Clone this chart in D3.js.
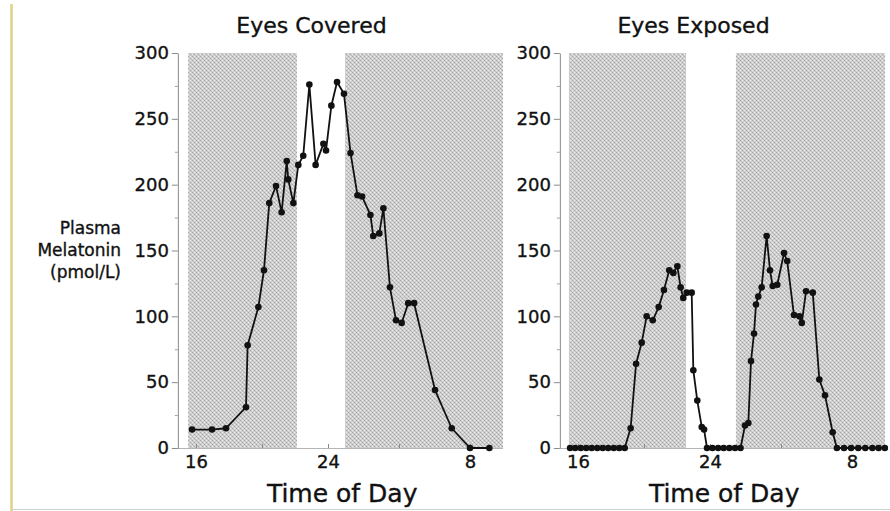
<!DOCTYPE html>
<html>
<head>
<meta charset="utf-8">
<script src="https://cdn.jsdelivr.net/npm/d3@7"></script>
<style>
  html, body { margin: 0; padding: 0; background: #fff; }
  svg { display: block; }
  text { font-family: "DejaVu Sans", Verdana, sans-serif; fill: #111; stroke: #111; stroke-width: 0.35px; }
</style>
</head>
<body>
<svg id="chart" width="890" height="511"></svg>
<script>
// Clock hours (continuing past midnight: 32 = 8 AM next day)
const hourTicks = [16, 24, 32];
const hourTickLabels = ["16", "24", "8"];
const hourMinorTicks = [20, 28];
const levelTicks = [0, 50, 100, 150, 200, 250, 300];
const levelMinorTicks = [25, 75, 125, 175, 225, 275];
const panelTitles = ["Eyes Covered", "Eyes Exposed"];
const xTitle = "Time of Day";
const yTitleLines = ["Plasma", "Melatonin", "(pmol/L)"];

// Eyes covered: sampling time (h) and plasma melatonin (pmol/L)
const coveredTime = [15.76, 16.97, 17.82, 19.03, 19.13, 19.78, 20.12, 20.44, 20.85, 21.19,
  21.50, 21.59, 21.90, 22.20, 22.50, 22.87, 23.25, 23.72, 23.88, 24.19,
  24.51, 24.90, 25.27, 25.66, 25.92, 26.39, 26.55, 26.89, 27.12, 27.49,
  27.83, 28.15, 28.52, 28.85, 30.03, 30.97, 32.00, 33.09];
const coveredLevel = [14, 14, 15, 31, 78, 107, 135, 186, 199, 179,
  218, 204, 186, 215, 222, 276, 215, 231, 226, 260,
  278, 269, 224, 192, 191, 177, 161, 163, 182, 122,
  97, 95, 110, 110, 44, 15, 0, 0];

// Eyes exposed
const exposedTime = [15.52, 15.83, 16.17, 16.50, 16.83, 17.17, 17.50, 17.83, 18.17, 18.50, 18.83,
  19.19, 19.52, 19.86, 20.16, 20.53, 20.89, 21.21, 21.53, 21.78, 22.02,
  22.22, 22.38, 22.59, 22.89, 22.99, 23.23, 23.50, 23.64,
  23.82, 24.14, 24.46, 24.77, 25.09, 25.41, 25.72,
  25.97, 26.16, 26.31, 26.48, 26.59, 26.72, 26.91, 27.19, 27.38, 27.53,
  27.79, 28.17, 28.35, 28.73, 29.03, 29.17, 29.41, 29.79, 30.16, 30.48, 30.91,
  31.15, 31.55, 31.95, 32.35, 32.75, 33.15, 33.50, 33.85];
const exposedLevel = [0, 0, 0, 0, 0, 0, 0, 0, 0, 0, 0,
  15, 64, 80, 100, 97, 107, 120, 135, 133, 138,
  122, 114, 118, 118, 59, 36, 16, 14,
  0, 0, 0, 0, 0, 0, 0,
  17, 19, 66, 87, 109, 115, 122, 161, 135, 123,
  124, 148, 142, 101, 100, 95, 119, 118, 52, 40, 12,
  0, 0, 0, 0, 0, 0, 0, 0];

// Dark periods (start, end) in hours
const coveredDarkStart = [15.52, 24.96];
const coveredDarkEnd = [22.12, 33.86];
const exposedDarkStart = [15.45, 25.46];
const exposedDarkEnd = [22.55, 33.86];

const svg = d3.select("#chart");

// Halftone screen used for the dark periods
const defs = svg.append("defs");
const pat = defs.append("pattern")
  .attr("id", "halftone")
  .attr("width", 4).attr("height", 4)
  .attr("patternUnits", "userSpaceOnUse");
pat.append("rect").attr("width", 4).attr("height", 4).attr("fill", "#d0d0d0");
[[0, 0, "#a6a6a6"], [2, 2, "#a6a6a6"], [2, 0, "#ececec"], [0, 2, "#ececec"],
 [1, 1, "#c0c0c0"], [3, 3, "#c0c0c0"]].forEach(([px, py, c]) =>
  pat.append("rect").attr("x", px).attr("y", py).attr("width", 1).attr("height", 1).attr("fill", c));

// Page frame: a khaki rule on the left and a faint rule at the bottom
svg.append("line").attr("x1", 11.5).attr("x2", 11.5).attr("y1", 4).attr("y2", 511)
  .attr("stroke", "#e0d188").attr("stroke-width", 2.5);
svg.append("line").attr("x1", 12).attr("x2", 890).attr("y1", 509.5).attr("y2", 509.5)
  .attr("stroke", "#d2d2d2").attr("stroke-width", 1);

const y = d3.scaleLinear().domain([0, 300]).range([448, 53]);

const panels = [
  { title: panelTitles[0], time: coveredTime, level: coveredLevel,
    darkStart: coveredDarkStart, darkEnd: coveredDarkEnd, shift: 0 },
  { title: panelTitles[1], time: exposedTime, level: exposedLevel,
    darkStart: exposedDarkStart, darkEnd: exposedDarkEnd, shift: 382 }
];

panels.forEach(p => {
  const x = d3.scaleLinear().domain([16, 24, 32])
    .range([196 + p.shift, 328 + p.shift, 470 + p.shift]);
  const g = svg.append("g");
  const x0 = x(14.9);
  const xEnd = x(33.86);

  // dark periods
  g.selectAll("rect.dark").data(d3.range(p.darkStart.length)).join("rect")
    .attr("class", "dark")
    .attr("x", i => x(p.darkStart[i]))
    .attr("width", i => x(p.darkEnd[i]) - x(p.darkStart[i]))
    .attr("y", y(300))
    .attr("height", y(0) - y(300))
    .attr("fill", "url(#halftone)");

  // baseline
  g.append("line").attr("x1", x0).attr("x2", xEnd).attr("y1", y(0) + 0.5).attr("y2", y(0) + 0.5)
    .attr("stroke", "#b4b4b4").attr("stroke-width", 1);

  // y axis
  const ya = g.append("g").attr("transform", `translate(${x0},0)`)
    .call(d3.axisLeft(y).tickValues(levelTicks).tickSize(6).tickSizeOuter(0).tickPadding(3));
  ya.select(".domain").attr("stroke", "#8a8a8a");
  ya.selectAll(".tick line").attr("stroke", "#8a8a8a");
  ya.selectAll(".tick text").style("font-size", "18px").attr("fill", "#111");
  const ym = g.append("g").attr("transform", `translate(${x0},0)`)
    .call(d3.axisLeft(y).tickValues(levelMinorTicks).tickSize(3).tickSizeOuter(0).tickFormat(""));
  ym.select(".domain").remove();
  ym.selectAll(".tick line").attr("stroke", "#a0a0a0");

  // x axis
  const xa = g.append("g").attr("transform", `translate(0,${y(0)})`)
    .call(d3.axisBottom(x).tickValues(hourTicks).tickSize(-4).tickSizeOuter(0).tickPadding(7)
      .tickFormat((d, i) => hourTickLabels[i]));
  xa.select(".domain").remove();
  xa.selectAll(".tick line").attr("stroke", "#8a8a8a");
  xa.selectAll(".tick text").style("font-size", "18px").attr("fill", "#111");
  const xm = g.append("g").attr("transform", `translate(0,${y(0)})`)
    .call(d3.axisBottom(x).tickValues(hourMinorTicks).tickSize(-4).tickSizeOuter(0).tickFormat(""));
  xm.select(".domain").remove();
  xm.selectAll(".tick line").attr("stroke", "#8a8a8a");

  // melatonin profile
  const idx = d3.range(p.time.length);
  const line = d3.line().x(i => x(p.time[i])).y(i => y(p.level[i]));
  g.append("path").datum(idx).attr("d", line)
    .attr("fill", "none").attr("stroke", "#111").attr("stroke-width", 1.8)
    .attr("stroke-linejoin", "round");
  g.selectAll("circle.pt").data(idx).join("circle")
    .attr("class", "pt")
    .attr("cx", i => x(p.time[i]))
    .attr("cy", i => y(p.level[i]))
    .attr("r", 3.3)
    .attr("fill", "#111");

  // titles
  g.append("text").attr("x", x(23)).attr("y", 33)
    .attr("text-anchor", "middle").style("font-size", "22px").text(p.title);
  g.append("text").attr("x", x(24.8)).attr("y", 502)
    .attr("text-anchor", "middle").style("font-size", "25px").text(xTitle);
});

// y axis title
const yt = svg.append("text").attr("text-anchor", "end").style("font-size", "17px");
yTitleLines.forEach((s, i) => {
  yt.append("tspan").attr("x", 121).attr("y", 234 + i * 22).text(s);
});
</script>
</body>
</html>
